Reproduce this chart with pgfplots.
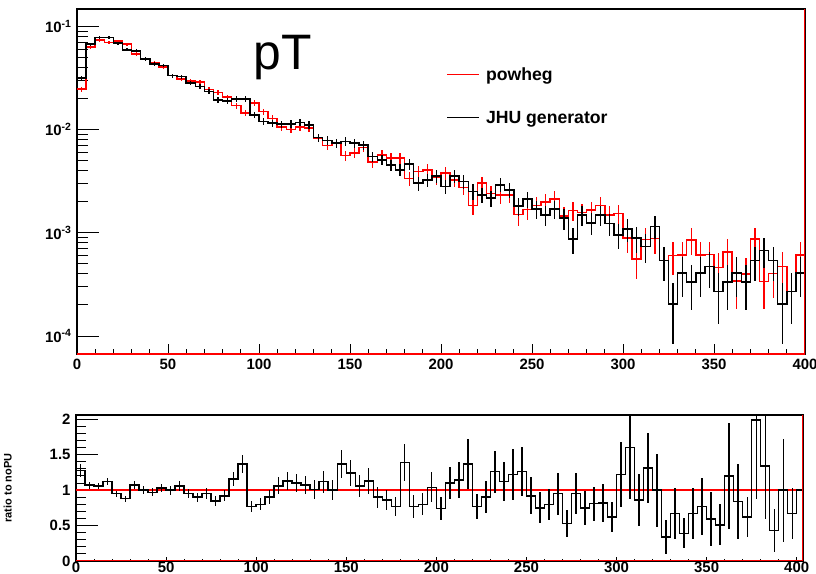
\documentclass[border=0pt]{standalone}
\usepackage{fontspec}
\setmainfont{Liberation Sans}
\usepackage{pgfplots}
\usepackage{pgfplotstable}
\pgfplotsset{compat=1.18}

\pgfplotstableread{
lo y e
0 0.03152 0.00150
5 0.06725 0.00219
10 0.0779 0.00236
15 0.0779 0.00236
20 0.06877 0.00222
25 0.05923 0.00206
30 0.05792 0.00203
35 0.04815 0.00185
40 0.04306 0.00175
45 0.04173 0.00173
50 0.0334 0.00154
55 0.03266 0.00153
60 0.02819 0.00142
65 0.02614 0.00137
70 0.02337 0.00129
75 0.01943 0.00118
80 0.01901 0.00117
85 0.01987 0.00119
90 0.01987 0.00119
95 0.01391 0.00100
100 0.01198 0.000925
105 0.01156 0.000909
110 0.0113 0.000898
115 0.01138 0.000902
120 0.01172 0.000915
125 0.01113 0.000892
130 0.008385 0.000774
135 0.007844 0.000749
140 0.007401 0.000727
145 0.00767 0.000740
150 0.007401 0.000727
155 0.007126 0.000714
160 0.00549 0.000626
165 0.0051 0.000604
170 0.004561 0.000571
175 0.00408 0.000540
180 0.004665 0.000577
185 0.003034 0.000466
190 0.003266 0.000483
195 0.003571 0.000505
200 0.002812 0.000448
205 0.003571 0.000505
210 0.003145 0.000474
215 0.002517 0.000424
220 0.002337 0.000409
225 0.002172 0.000394
230 0.002921 0.000457
235 0.002614 0.000432
240 0.00183 0.000362
245 0.002124 0.000390
250 0.0017 0.000348
255 0.001497 0.000327
260 0.0017 0.000348
265 0.001391 0.000315
270 0.000871 0.000249
275 0.001497 0.000327
280 0.001244 0.000298
285 0.001497 0.000327
290 0.001225 0.000296
295 0.000958 0.000262
300 0.001088 0.000279
305 0.000891 0.000252
310 0.000738 0.000230
315 0.001153 0.000287
320 0.00054 0.000196
325 0.000204 0.000121
330 0.000408 0.000171
335 0.000334 0.000154
340 0.000408 0.000171
345 0.000473 0.000184
350 0.000271 0.000139
355 0.000334 0.000154
360 0.000408 0.000171
365 0.000334 0.000154
370 0.00054 0.000196
375 0.000671 0.000219
380 0.00054 0.000196
385 0.000204 0.000121
390 0.000271 0.000139
395 0.000408 0.000171
400 0.000408 0
}\jhu

\pgfplotstableread{
lo y e
0 0.02463 0.00133
5 0.06285 0.00212
10 0.07349 0.00229
15 0.06955 0.00223
20 0.07239 0.00227
25 0.06731 0.00219
30 0.05413 0.00197
35 0.04815 0.00185
40 0.04439 0.00178
45 0.04051 0.00170
50 0.0334 0.00154
55 0.03081 0.00148
60 0.02967 0.00146
65 0.02904 0.00144
70 0.0246 0.00133
75 0.02286 0.00128
80 0.02066 0.00121
85 0.01713 0.00111
90 0.0145 0.00102
95 0.01806 0.00114
100 0.01498 0.00103
105 0.01284 0.000958
110 0.01066 0.000873
115 0.01007 0.000848
120 0.01065 0.000872
125 0.0104 0.000862
130 0.008302 0.000770
135 0.007004 0.000707
140 0.007401 0.000727
145 0.005599 0.000632
150 0.005969 0.000653
155 0.006723 0.000693
160 0.004858 0.000589
165 0.005667 0.000636
170 0.005303 0.000615
175 0.005299 0.000615
180 0.003356 0.000490
185 0.00394 0.000531
190 0.004083 0.000540
195 0.003434 0.000495
200 0.0038 0.000521
205 0.003246 0.000482
210 0.002759 0.000444
215 0.001837 0.000362
220 0.003035 0.000466
225 0.002413 0.000415
230 0.002318 0.000407
235 0.002334 0.000408
240 0.0015 0.000327
245 0.001686 0.000347
250 0.001848 0.000363
255 0.001996 0.000378
260 0.002125 0.000390
265 0.001464 0.000323
270 0.001643 0.000343
275 0.001576 0.000336
280 0.001659 0.000344
285 0.001848 0.000363
290 0.001494 0.000327
295 0.001545 0.000332
300 0.000892 0.000252
305 0.000557 0.000199
310 0.000858 0.000248
315 0.00088 0.000251
320 0.00054 0.000196
325 0.0006 0.000207
330 0.000609 0.000209
335 0.000856 0.000247
340 0.000609 0.000209
345 0.000614 0.000209
350 0.000459 0.000181
355 0.000655 0.000216
360 0.00034 0.000156
365 0.000398 0.000169
370 0.000871 0.000249
375 0.000337 0.000155
380 0.000403 0.000170
385 0.000474 0.000184
390 0.000271 0.000139
395 0.000609 0.000209
400 0.000609 0
}\powheg

\pgfplotstableread{
lo r e
0 1.28 0.092
5 1.07 0.050
10 1.06 0.046
15 1.12 0.049
20 0.95 0.043
25 0.88 0.042
30 1.07 0.054
35 1.00 0.054
40 0.97 0.055
45 1.03 0.061
50 1.00 0.065
55 1.06 0.071
60 0.95 0.067
65 0.90 0.065
70 0.95 0.073
75 0.85 0.070
80 0.92 0.078
85 1.16 0.102
90 1.37 0.126
95 0.77 0.073
100 0.80 0.083
105 0.90 0.097
110 1.06 0.121
115 1.13 0.130
120 1.10 0.124
125 1.07 0.123
130 1.01 0.132
135 1.12 0.156
140 1.00 0.139
145 1.37 0.203
150 1.24 0.182
155 1.06 0.153
160 1.13 0.188
165 0.90 0.147
170 0.86 0.146
175 0.77 0.135
180 1.39 0.265
185 0.77 0.158
190 0.80 0.158
195 1.04 0.210
200 0.74 0.156
205 1.10 0.226
210 1.14 0.251
215 1.37 0.358
220 0.77 0.180
225 0.90 0.225
230 1.26 0.297
235 1.12 0.271
240 1.22 0.360
245 1.26 0.348
250 0.92 0.263
255 0.75 0.217
260 0.80 0.221
265 0.95 0.298
270 0.53 0.189
275 0.95 0.289
280 0.75 0.239
285 0.81 0.240
290 0.82 0.268
295 0.62 0.216
300 1.22 0.465
305 1.60 0.729
310 0.86 0.364
315 1.31 0.491
320 1.00 0.514
325 0.34 0.235
330 0.67 0.360
335 0.39 0.213
340 0.67 0.360
345 0.77 0.400
350 0.59 0.382
355 0.51 0.290
360 1.20 0.744
365 0.84 0.528
370 0.62 0.287
375 1.99 1.120
380 1.34 0.745
385 0.43 0.304
390 1.00 0.727
395 0.67 0.360
400 1.00 0
403 1.00 0
}\ratio

\begin{document}
\begin{tikzpicture}
\useasboundingbox (0bp,0bp) rectangle (816bp,574bp);
\pgfplotsset{
  every axis/.append style={
    scale only axis,
    anchor=south west,
    axis line style={line width=1.3bp},
    tick style={line width=1bp, black},
    xtick pos=bottom, ytick pos=left,
    tick label style={font=\bfseries\fontsize{15}{15}\selectfont},
    /pgf/number format/assume math mode=true,
    clip=true,
  },
  errbars/.style={draw=none, mark=none, forget plot,
    error bars/.cd, y dir=both, y explicit, error mark=none,
    error bar style={draw=#1, solid, line width=1.3bp}},
}
% ---------------- top panel ----------------
\begin{axis}[
  at={(77bp,220bp)}, width=728bp, height=345bp,
  xmin=0, xmax=400, ymode=log, ymin=6.7e-5, ymax=0.1475,
  xtick={0,50,...,400}, minor x tick num=4,
  ytick={1e-4,1e-3,1e-2,1e-1},
  yticklabels={10\textsuperscript{-4},10\textsuperscript{-3},10\textsuperscript{-2},10\textsuperscript{-1}},
  major tick length=22bp, minor tick length=11bp,
  xtick style={/pgfplots/major tick length=10bp,/pgfplots/minor tick length=5bp},
  xticklabel style={yshift=-2bp},
  yticklabel style={xshift=-2bp},
  legend style={draw=none, fill=none, at={(0.5035,0.842)}, anchor=north west,
    font=\bfseries\fontsize{17.7}{17.7}\selectfont, row sep=25bp,
    /tikz/every odd column/.append style={column sep=4bp}},
  legend cell align=left,
  legend image code/.code={\draw[#1, line width=1.3bp] (0bp,0bp) -- (32bp,0bp);},
]
\addplot[red, line width=1.5bp, const plot, mark=none] table[x=lo, y=y] {\powheg};
\addlegendentry{powheg}
\addplot[black, line width=1.5bp, const plot, mark=none] table[x=lo, y=y] {\jhu};
\addlegendentry{JHU generator}
\addplot[restrict x to domain=0:400, errbars=red]
  table[x expr=\thisrow{lo}+2.5, y=y, y error=e] {\powheg};
\addplot[restrict x to domain=0:400, errbars=black]
  table[x expr=\thisrow{lo}+2.5, y=y, y error=e] {\jhu};
\draw[red, line width=1.5bp] (rel axis cs:0,0) -- (rel axis cs:1,0) -- (rel axis cs:1,1);
\node[font=\fontsize{50}{50}\selectfont] at (rel axis cs:0.283,0.858) {pT};
\end{axis}
% ---------------- ratio panel ----------------
\begin{axis}[
  at={(76bp,13bp)}, width=727bp, height=146bp,
  xmin=0, xmax=403.5, ymin=0, ymax=2.06,
  xtick={0,50,...,400}, minor x tick num=4,
  ytick={0,0.5,1,1.5,2}, minor y tick num=4,
  major tick length=22bp, minor tick length=10bp,
  xtick style={/pgfplots/major tick length=4bp,/pgfplots/minor tick length=2bp},
  xticklabel style={yshift=2bp},
  yticklabel style={xshift=-2bp},
  ylabel={ratio to noPU},
  ylabel style={at={(rel axis cs:-0.094,0.5)}, anchor=center, font=\bfseries\fontsize{11}{11}\selectfont},
]
\addplot[red, line width=1.4bp, mark=none, forget plot] coordinates {(0,1) (403.5,1)};
\addplot[black, line width=1.5bp, const plot, mark=none] table[x=lo, y=r] {\ratio};
\addplot[restrict x to domain=0:400, errbars=black]
  table[x expr=\thisrow{lo}+2.5, y=r, y error=e] {\ratio};
\draw[red, line width=1.5bp] (rel axis cs:0,0) -- (rel axis cs:1,0) -- (rel axis cs:1,1);
\end{axis}
\end{tikzpicture}
\end{document}
